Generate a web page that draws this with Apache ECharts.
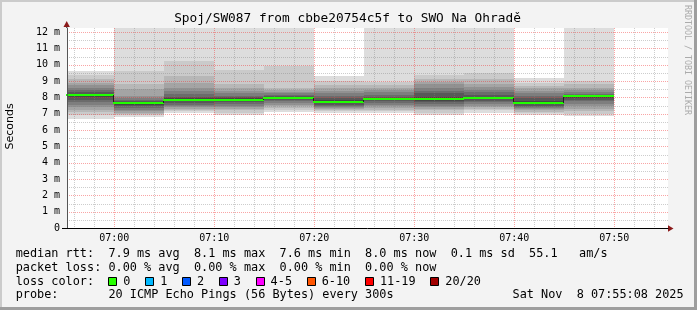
<!DOCTYPE html>
<html><head><meta charset="utf-8">
<script src="https://cdn.jsdelivr.net/npm/echarts@6/dist/echarts.min.js"></script>
<style>html,body{margin:0;padding:0;background:#f3f3f3}#c{width:697px;height:310px}</style>
</head><body><div id="c"></div>
<script>
// ---- data ----
const binEnds = ['07:00','07:05','07:10','07:15','07:20','07:25','07:30','07:35','07:40','07:45','07:50'];
const binStepMin = 5;
const medians = [8.15, 7.65, 7.87, 7.87, 7.98, 7.72, 7.93, 7.93, 7.98, 7.68, 8.07];
// 20 sorted ping RTTs (ms) per 5-minute step; values above the chart top are estimates
const pings0700 = [6.65, 6.95, 7.1, 7.25, 7.4, 7.55, 7.7, 7.85, 8.0, 8.12, 8.17, 8.2, 8.3, 8.45, 8.6, 8.75, 8.9, 9.15, 9.35, 9.6];
const pings0705 = [6.82, 6.92, 7.0, 7.05, 7.15, 7.25, 7.35, 7.45, 7.55, 7.62, 7.67, 7.7, 7.75, 7.85, 7.95, 8.1, 8.5, 8.8, 9.6, 14];
const pings0710 = [7.05, 7.15, 7.22, 7.3, 7.4, 7.45, 7.55, 7.65, 7.75, 7.85, 7.9, 7.95, 8.05, 8.2, 8.4, 8.6, 8.9, 9.3, 10.25, 14];
const pings0715 = [6.9, 7.05, 7.2, 7.3, 7.4, 7.5, 7.6, 7.7, 7.78, 7.85, 7.9, 7.95, 8.0, 8.1, 8.25, 8.4, 8.6, 8.8, 9.7, 14];
const pings0720 = [7.1, 7.25, 7.35, 7.45, 7.55, 7.65, 7.75, 7.82, 7.9, 7.96, 8.0, 8.03, 8.08, 8.15, 8.25, 8.35, 8.45, 8.6, 9.95, 14];
const pings0725 = [7.05, 7.15, 7.2, 7.28, 7.35, 7.42, 7.5, 7.55, 7.63, 7.7, 7.76, 7.82, 7.95, 8.1, 8.25, 8.4, 8.55, 8.75, 9.0, 9.28];
const pings0730 = [7.05, 7.15, 7.25, 7.35, 7.45, 7.55, 7.65, 7.75, 7.83, 7.9, 7.94, 7.98, 8.05, 8.15, 8.3, 8.45, 8.6, 8.75, 8.95, 14];
const pings0735 = [6.9, 7.05, 7.2, 7.3, 7.4, 7.5, 7.6, 7.7, 7.8, 7.9, 7.95, 8.05, 8.25, 8.4, 8.6, 8.8, 8.95, 9.1, 9.4, 14];
const pings0740 = [7.05, 7.2, 7.3, 7.4, 7.5, 7.6, 7.7, 7.8, 7.9, 7.97, 8.01, 8.05, 8.15, 8.3, 8.45, 8.65, 8.85, 9.1, 9.5, 14];
const pings0745 = [6.92, 7.03, 7.12, 7.2, 7.28, 7.35, 7.42, 7.5, 7.6, 7.66, 7.72, 7.8, 7.95, 8.1, 8.25, 8.4, 8.55, 8.7, 8.9, 9.2];
const pings0750 = [6.83, 7.0, 7.15, 7.3, 7.45, 7.6, 7.75, 7.85, 7.95, 8.03, 8.07, 8.09, 8.13, 8.2, 8.3, 8.45, 8.6, 8.8, 9.0, 14];
const pingBins = [pings0700, pings0705, pings0710, pings0715, pings0720, pings0725, pings0730, pings0735, pings0740, pings0745, pings0750];

const xTickLabels = ['07:00','07:10','07:20','07:30','07:40','07:50'];
const yTickValues = [0,1,2,3,4,5,6,7,8,9,10,11,12];
const lossLegend = [['0','#26ff00'],['1','#00b8ff'],['2','#0059ff'],['3','#7e00ff'],['4-5','#ff00ff'],['6-10','#ff5500'],['11-19','#ff0000'],['20/20','#a10000']];
const titleText = 'Spoj/SW087 from cbbe20754c5f to SWO Na Ohradě';
const rttLine = 'median rtt:  7.9 ms avg  8.1 ms max  7.6 ms min  8.0 ms now  0.1 ms sd  55.1   am/s';
const lossLine = 'packet loss: 0.00 % avg  0.00 % max  0.00 % min  0.00 % now';
const probeLine = 'probe:       20 ICMP Echo Pings (56 Bytes) every 300s';
const dateText = 'Sat Nov  8 07:55:08 2025';

// ---- helpers ----
const toMin = s => { const p = s.split(':'); return (+p[0]) * 60 + (+p[1]); };
const fmtMin = v => { const h = Math.floor(v / 60), m = Math.round(v - h * 60); return String(h).padStart(2,'0') + ':' + String(m).padStart(2,'0'); };
const X_MIN = 415.27, X_MAX = 475.37, Y_MAX = 12.25;
const smokeShades = ['#dddddd','#cacaca','#b7b7b7','#a4a4a4','#919191','#7e7e7e','#6b6b6b','#585858','#454545','#323232'];
const MONO = '"DejaVu Sans Mono"';

const smokeData = [];
pingBins.forEach((arr, b) => {
  const t1 = toMin(binEnds[b]), t0 = t1 - binStepMin;
  for (let k = 0; k < arr.length / 2; k++) smokeData.push([t0, t1, arr[k], arr[arr.length - 1 - k], k]);
});
const medianData = medians.map((m, b) => {
  const t1 = toMin(binEnds[b]);
  return [t1 - binStepMin, t1, m, b > 0 ? medians[b - 1] : m];
});
const xTickValues = xTickLabels.map(toMin);
const xGridData = [];
for (let v = Math.ceil(X_MIN / 2) * 2; v <= X_MAX; v += 2) xGridData.push([v, 0, v % 10 === 0 ? 1 : 0]);
const yGridData = [];
for (let v = 0.5; v <= Y_MAX; v += 0.5) yGridData.push([X_MIN, v, Number.isInteger(v) ? 1 : 0]);

const MAJOR = 'rgba(240,40,40,0.42)', MINOR = 'rgba(130,130,130,0.4)';

function renderSmoke(params, api) {
  const a = api.coord([api.value(0), api.value(2)]);
  const b = api.coord([api.value(1), api.value(3)]);
  const cs = params.coordSys;
  const x0 = Math.round(a[0]), x1 = Math.round(b[0]), yT = Math.round(b[1]), yB = Math.round(a[1]);
  const r = echarts.graphic.clipRectByRect({x: x0, y: yT, width: x1 - x0, height: yB - yT},
    {x: cs.x, y: cs.y, width: cs.width, height: cs.height});
  if (!r) return null;
  return {type: 'rect', shape: r, style: {fill: smokeShades[api.value(4)]}};
}
function renderMedian(params, api) {
  const a = api.coord([api.value(0), api.value(2)]);
  const b = api.coord([api.value(1), api.value(2)]);
  const p = api.coord([api.value(0), api.value(3)]);
  const cs = params.coordSys;
  const x0 = Math.max(Math.round(a[0]), cs.x), x1 = Math.round(b[0]);
  const y = Math.round(a[1]);
  const children = [];
  if (Math.round(p[1]) !== y) {
    children.push({type: 'line', shape: {x1: x0 - 0.5, y1: Math.round(p[1]), x2: x0 - 0.5, y2: y},
      style: {stroke: '#202020', lineWidth: 1}});
  }
  children.push({type: 'rect', shape: {x: x0 - 1, y: y - 1, width: x1 - x0 + 1, height: 2}, style: {fill: '#20ff00'}});
  return {type: 'group', children};
}
function renderXGrid(params, api) {
  const p = api.coord([api.value(0), 0]);
  const cs = params.coordSys;
  const x = Math.round(p[0]) + 0.5;
  return {type: 'line', shape: {x1: x, y1: cs.y, x2: x, y2: cs.y + cs.height},
    style: {stroke: api.value(2) ? MAJOR : MINOR, lineWidth: 1, lineDash: [1, 1]}};
}
function renderYGrid(params, api) {
  const p = api.coord([X_MIN, api.value(1)]);
  const cs = params.coordSys;
  const y = Math.round(p[1]) + 0.5;
  return {type: 'line', shape: {x1: cs.x, y1: y, x2: cs.x + cs.width, y2: y},
    style: {stroke: api.value(2) ? MAJOR : MINOR, lineWidth: 1, lineDash: [1, 1]}};
}

// ---- legend / text graphics ----
const CW = 7.13, TX = 15.7;
const infoFont = '11.85px ' + MONO;
const graphics = [
  {type: 'rect', shape: {x: 0, y: 0, width: 697, height: 2}, style: {fill: '#cbcbcb'}, silent: true},
  {type: 'rect', shape: {x: 0, y: 0, width: 2, height: 310}, style: {fill: '#cbcbcb'}, silent: true},
  {type: 'rect', shape: {x: 0, y: 307, width: 697, height: 3}, style: {fill: '#9e9e9e'}, silent: true},
  {type: 'rect', shape: {x: 694, y: 0, width: 3, height: 310}, style: {fill: '#9e9e9e'}, silent: true},
  {type: 'text', x: 347.5, y: 18.8, style: {text: titleText, font: '12.8px ' + MONO, fill: '#000', align: 'center', verticalAlign: 'middle'}},
  {type: 'text', x: 686.7, y: 60, rotation: -Math.PI / 2, style: {text: 'RRDTOOL / TOBI OETIKER', font: '8.3px ' + MONO, fill: '#ababab', align: 'center', verticalAlign: 'middle'}},
  {type: 'text', x: 10.5, y: 126.5, rotation: Math.PI / 2, style: {text: 'Seconds', font: '11px "DejaVu Sans"', fill: '#000', align: 'center', verticalAlign: 'middle'}},
  {type: 'line', shape: {x1: 62, y1: 228.5, x2: 67, y2: 228.5}, style: {stroke: '#000', lineWidth: 1}},
  {type: 'line', shape: {x1: 66.5, y1: 24, x2: 66.5, y2: 28}, style: {stroke: '#555', lineWidth: 1}},
  {type: 'polygon', shape: {points: [[63.5, 27], [66.7, 21], [69.9, 27]]}, style: {fill: '#8b1a1a'}},
  {type: 'polygon', shape: {points: [[668, 225.2], [673.5, 228.5], [668, 231.8]]}, style: {fill: '#8b1a1a'}},
  {type: 'text', x: TX, y: 254.3, style: {text: rttLine, font: infoFont, fill: '#000', verticalAlign: 'middle'}},
  {type: 'text', x: TX, y: 268, style: {text: lossLine, font: infoFont, fill: '#000', verticalAlign: 'middle'}},
  {type: 'text', x: TX, y: 281.7, style: {text: 'loss color:', font: infoFont, fill: '#000', verticalAlign: 'middle'}},
  {type: 'text', x: TX, y: 295.3, style: {text: probeLine, font: infoFont, fill: '#000', verticalAlign: 'middle'}},
  {type: 'text', x: 512.5, y: 295.3, style: {text: dateText, font: infoFont, fill: '#000', verticalAlign: 'middle'}}
];
let lx = 108.3;
lossLegend.forEach(([lab, col]) => {
  const sx = Math.round(lx);
  graphics.push({type: 'rect', shape: {x: sx + 0.5, y: 277.5, width: 8, height: 8}, style: {fill: col, stroke: '#000', lineWidth: 1}});
  graphics.push({type: 'text', x: lx + 15, y: 281.7, style: {text: lab, font: infoFont, fill: '#000', verticalAlign: 'middle'}});
  lx = lx + 15 + lab.length * CW + 14.7;
});

const chart = echarts.init(document.getElementById('c'), null, {renderer: 'canvas'});
chart.setOption({
  animation: false,
  backgroundColor: '#f3f3f3',
  grid: {left: 67, top: 28, width: 601, height: 200, show: true, backgroundColor: '#ffffff', borderWidth: 0, containLabel: false},
  xAxis: {
    type: 'value', min: X_MIN, max: X_MAX, z: 5,
    axisLine: {show: true, onZero: false, lineStyle: {color: '#000', width: 1}},
    axisTick: {show: false}, splitLine: {show: false},
    axisLabel: {customValues: xTickValues, formatter: v => fmtMin(v), margin: 5, fontFamily: 'DejaVu Sans Mono', fontSize: 10, color: '#000'}
  },
  yAxis: {
    type: 'value', min: 0, max: Y_MAX, z: 5,
    axisLine: {show: true, lineStyle: {color: '#555', width: 1}},
    axisTick: {show: false}, splitLine: {show: false},
    axisLabel: {customValues: yTickValues, formatter: v => v === 0 ? '0' : v + ' m', margin: 7, fontFamily: 'DejaVu Sans Mono', fontSize: 10, color: '#000'}
  },
  series: [
    {type: 'custom', name: 'smoke', data: smokeData, renderItem: renderSmoke, encode: {x: [0, 1], y: [2, 3]}, z: 2, silent: true},
    {type: 'custom', name: 'xgrid', data: xGridData, renderItem: renderXGrid, encode: {x: 0, y: 1}, z: 3, silent: true},
    {type: 'custom', name: 'ygrid', data: yGridData, renderItem: renderYGrid, encode: {x: 0, y: 1}, z: 3, silent: true},
    {type: 'custom', name: 'median', data: medianData, renderItem: renderMedian, encode: {x: [0, 1], y: [2, 3]}, z: 4, silent: true}
  ],
  graphic: graphics
});
</script>
</body></html>
